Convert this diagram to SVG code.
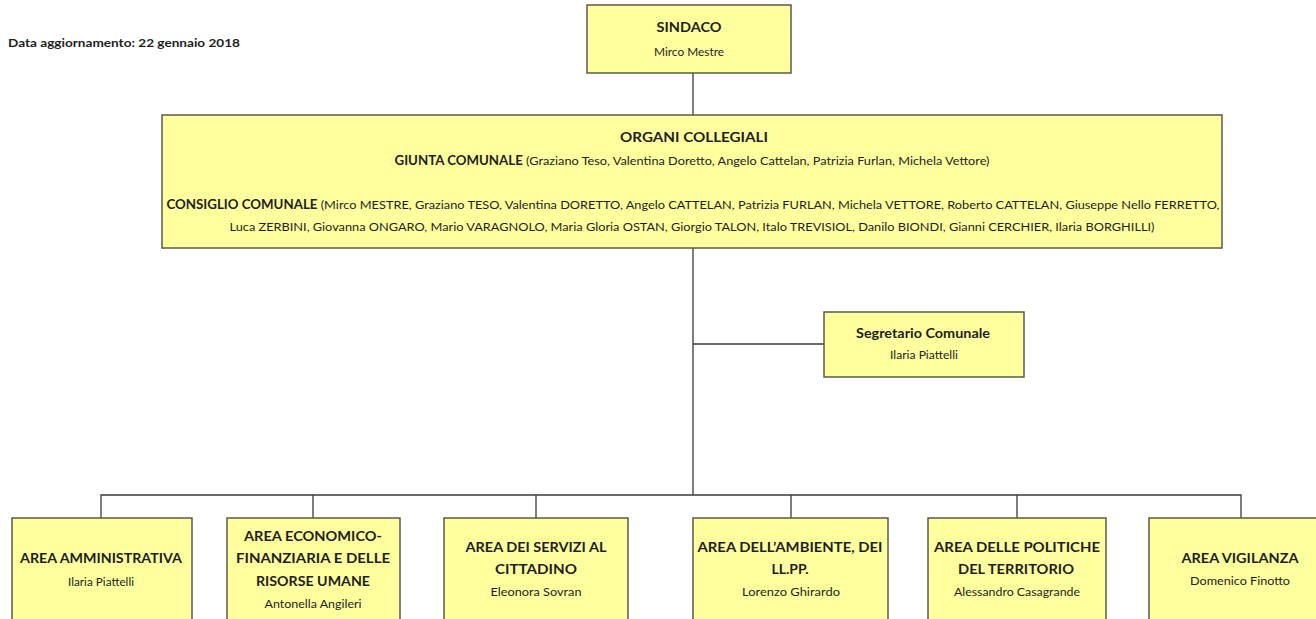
<svg xmlns="http://www.w3.org/2000/svg" width="1316" height="619" viewBox="0 0 1316 619">
<style>
.box{fill:#FFFF9E;stroke:#5a5a4a;stroke-width:1.5}
.t{font-family:Lato,"Open Sans","Liberation Sans",sans-serif;fill:#1e1e1e;text-anchor:middle}
.b{font-weight:bold;font-size:12.5px}
.r{font-size:12px}
.c{fill:none;stroke:#3a3a3a;stroke-width:1.3}
</style>
<rect width="1316" height="619" fill="#ffffff"/>
<text x="8" y="47" font-family="Lato,'Liberation Sans',sans-serif" font-size="12" font-weight="bold" fill="#1e1e1e" textLength="232" lengthAdjust="spacingAndGlyphs">Data aggiornamento: 22 gennaio 2018</text>
<g id="connectors">
<line class="c" x1="693" y1="73" x2="693" y2="115"/>
<line class="c" x1="693" y1="248" x2="693" y2="495" stroke-width="2"/>
<line class="c" x1="693" y1="344" x2="824" y2="344"/>
<polyline class="c" points="101,518 101,495 1241,495 1241,518"/>
<line class="c" x1="313" y1="495" x2="313" y2="518"/>
<line class="c" x1="536" y1="495" x2="536" y2="518"/>
<line class="c" x1="791" y1="495" x2="791" y2="518"/>
<line class="c" x1="1017" y1="495" x2="1017" y2="518"/>
</g>
<g id="sindaco">
<rect class="box" x="587" y="5" width="204" height="68"/>
<text class="t b" x="689" y="32" textLength="65" lengthAdjust="spacingAndGlyphs">SINDACO</text>
<text class="t r" x="689" y="56" textLength="70" lengthAdjust="spacingAndGlyphs">Mirco Mestre</text>
</g>
<g id="organi">
<rect class="box" x="162" y="115" width="1060" height="133"/>
<text class="t b" x="694" y="142" textLength="148" lengthAdjust="spacingAndGlyphs">ORGANI COLLEGIALI</text>
<text class="t r" x="692" y="165" textLength="595" lengthAdjust="spacingAndGlyphs"><tspan class="b">GIUNTA COMUNALE</tspan> (Graziano Teso, Valentina Doretto, Angelo Cattelan, Patrizia Furlan, Michela Vettore)</text>
<text class="t r" x="693" y="209" textLength="1053" lengthAdjust="spacingAndGlyphs"><tspan class="b">CONSIGLIO COMUNALE</tspan> (Mirco MESTRE, Graziano TESO, Valentina DORETTO, Angelo CATTELAN, Patrizia FURLAN, Michela VETTORE, Roberto CATTELAN, Giuseppe Nello FERRETTO,</text>
<text class="t r" x="692" y="231" textLength="925" lengthAdjust="spacingAndGlyphs">Luca ZERBINI, Giovanna ONGARO, Mario VARAGNOLO, Maria Gloria OSTAN, Giorgio TALON, Italo TREVISIOL, Danilo BIONDI, Gianni CERCHIER, Ilaria BORGHILLI)</text>
</g>
<g id="segretario">
<rect class="box" x="824" y="312" width="200" height="65"/>
<text class="t b" x="923" y="338" textLength="134" lengthAdjust="spacingAndGlyphs">Segretario Comunale</text>
<text class="t r" x="924" y="359" textLength="68" lengthAdjust="spacingAndGlyphs">Ilaria Piattelli</text>
</g>
<g id="area-amministrativa">
<rect class="box" x="12" y="518" width="180" height="110"/>
<text class="t b" x="101" y="563" textLength="162" lengthAdjust="spacingAndGlyphs">AREA AMMINISTRATIVA</text>
<text class="t r" x="101" y="586" textLength="66" lengthAdjust="spacingAndGlyphs">Ilaria Piattelli</text>
</g>
<g id="area-economico">
<rect class="box" x="227" y="518" width="173" height="110"/>
<text class="t b" x="313" y="541" textLength="138" lengthAdjust="spacingAndGlyphs">AREA ECONOMICO-</text>
<text class="t b" x="313" y="563" textLength="154" lengthAdjust="spacingAndGlyphs">FINANZIARIA E DELLE</text>
<text class="t b" x="313" y="586" textLength="114" lengthAdjust="spacingAndGlyphs">RISORSE UMANE</text>
<text class="t r" x="313" y="608" textLength="97" lengthAdjust="spacingAndGlyphs">Antonella Angileri</text>
</g>
<g id="area-servizi">
<rect class="box" x="444" y="518" width="184" height="110"/>
<text class="t b" x="536" y="552" textLength="141" lengthAdjust="spacingAndGlyphs">AREA DEI SERVIZI AL</text>
<text class="t b" x="536" y="574" textLength="82" lengthAdjust="spacingAndGlyphs">CITTADINO</text>
<text class="t r" x="536" y="596" textLength="91" lengthAdjust="spacingAndGlyphs">Eleonora Sovran</text>
</g>
<g id="area-ambiente">
<rect class="box" x="693" y="518" width="195" height="110"/>
<text class="t b" x="790" y="552" textLength="185" lengthAdjust="spacingAndGlyphs">AREA DELL’AMBIENTE, DEI</text>
<text class="t b" x="790" y="574" textLength="37" lengthAdjust="spacingAndGlyphs">LL.PP.</text>
<text class="t r" x="791" y="596" textLength="98" lengthAdjust="spacingAndGlyphs">Lorenzo Ghirardo</text>
</g>
<g id="area-politiche">
<rect class="box" x="928" y="518" width="178" height="110"/>
<text class="t b" x="1017" y="552" textLength="166" lengthAdjust="spacingAndGlyphs">AREA DELLE POLITICHE</text>
<text class="t b" x="1016" y="574" textLength="116" lengthAdjust="spacingAndGlyphs">DEL TERRITORIO</text>
<text class="t r" x="1017" y="596" textLength="126" lengthAdjust="spacingAndGlyphs">Alessandro Casagrande</text>
</g>
<g id="area-vigilanza">
<rect class="box" x="1149" y="518" width="185" height="110"/>
<text class="t b" x="1240" y="563" textLength="117" lengthAdjust="spacingAndGlyphs">AREA VIGILANZA</text>
<text class="t r" x="1240" y="585" textLength="100" lengthAdjust="spacingAndGlyphs">Domenico Finotto</text>
</g>
</svg>
